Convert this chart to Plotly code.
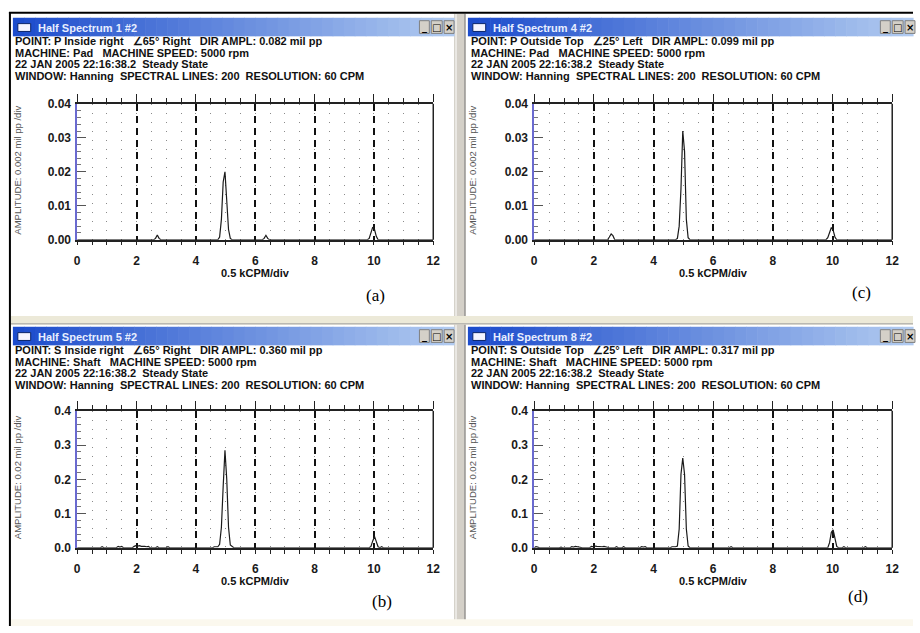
import plotly.graph_objects as go

W, H = 920, 633

# ---------------- data (frequency in kCPM, amplitude in mil pp) ----------------
freq_a = [0.00, 2.58, 2.64, 2.70, 2.76, 2.82, 4.74, 4.80, 4.86, 4.92, 4.98, 5.04, 5.10, 5.16, 5.22,
          6.24, 6.30, 6.36, 6.42, 6.48, 9.78, 9.84, 9.90, 9.96, 10.02, 10.08, 10.14, 12.00]
amp_a = [0, 0, 0.0004, 0.0014, 0.0004, 0, 0, 0.0008, 0.0060, 0.0170, 0.0200, 0.0120, 0.0030, 0.0004, 0,
         0, 0.0004, 0.0013, 0.0004, 0, 0, 0.0004, 0.0020, 0.0037, 0.0030, 0.0010, 0, 0]

freq_c = [0.00, 2.46, 2.52, 2.58, 2.64, 2.70, 4.74, 4.80, 4.86, 4.92, 4.98, 5.04, 5.10, 5.16, 5.22,
          9.78, 9.84, 9.90, 9.96, 10.02, 10.08, 10.14, 12.00]
amp_c = [0, 0, 0.0008, 0.0017, 0.0012, 0, 0, 0.0004, 0.0040, 0.0150, 0.0320, 0.0260, 0.0060, 0.0006, 0,
         0, 0.0006, 0.0022, 0.0036, 0.0028, 0.0008, 0, 0]

freq_b = [0.00, 0.78, 0.84, 0.90, 1.32, 1.38, 1.44, 1.50, 1.56, 1.86, 1.92, 1.98, 2.04, 2.10, 2.16,
          2.22, 2.28, 2.34, 2.40, 2.46, 2.64, 2.70, 2.76, 3.00, 3.06, 3.12, 4.56, 4.62, 4.68, 4.74,
          4.80, 4.86, 4.92, 4.98, 5.04, 5.10, 5.16, 5.22, 5.28, 9.84, 9.90, 9.96, 10.02, 10.08, 10.14,
          10.20, 10.26, 10.32, 12.00]
amp_b = [0, 0, 0.003, 0, 0, 0.004, 0.002, 0.004, 0, 0, 0.004, 0.006, 0.005, 0.006, 0.004,
         0.005, 0.004, 0.003, 0.004, 0, 0, 0.003, 0, 0, 0.003, 0, 0, 0.003, 0.004, 0.003,
         0.010, 0.060, 0.180, 0.285, 0.200, 0.060, 0.008, 0.004, 0, 0, 0.004, 0.020, 0.033, 0.018, 0.003,
         0, 0.003, 0, 0]

freq_d = [0.00, 0.06, 0.12, 0.18, 0.84, 0.90, 0.96, 1.20, 1.26, 1.32, 1.38, 1.44, 1.50, 1.56, 1.62,
          1.86, 1.92, 1.98, 2.04, 2.10, 2.16, 2.22, 2.28, 2.34, 2.40, 2.46, 2.52, 2.70, 2.76, 2.82,
          2.94, 3.00, 3.06, 3.54, 3.60, 3.66, 3.72, 3.78, 4.26, 4.32, 4.38, 4.56, 4.62, 4.68, 4.74,
          4.80, 4.86, 4.92, 4.98, 5.04, 5.10, 5.16, 5.22, 6.54, 6.60, 6.66, 9.84, 9.90, 9.96, 10.02,
          10.08, 10.14, 10.20, 10.32, 10.38, 10.44, 11.04, 11.10, 11.16, 12.00]
amp_d = [0, 0.003, 0.002, 0, 0, 0.002, 0, 0, 0.003, 0.002, 0.004, 0.003, 0.004, 0.003, 0,
         0, 0.004, 0.003, 0.005, 0.004, 0.003, 0.004, 0.003, 0.004, 0.003, 0.002, 0, 0, 0.003, 0,
         0, 0.003, 0, 0, 0.003, 0.002, 0.003, 0, 0, 0.002, 0, 0, 0.003, 0.002, 0.003,
         0.005, 0.055, 0.215, 0.262, 0.215, 0.055, 0.005, 0, 0, 0.003, 0, 0, 0.015, 0.045, 0.052,
         0.030, 0.004, 0, 0, 0.003, 0, 0, 0.003, 0, 0]

x_tick_vals = [0, 2, 4, 6, 8, 10, 12]
x_tick_text = ["0", "2", "4", "6", "8", "10", "12"]

NB = "\u00a0"
titles = {"a": "Half Spectrum 1 #2", "b": "Half Spectrum 5 #2",
          "c": "Half Spectrum 4 #2", "d": "Half Spectrum 8 #2"}
info = {
    "a": ["POINT: P Inside right" + NB*3 + "∠65° Right" + NB*3 + "DIR AMPL: 0.082 mil pp",
          "MACHINE: Pad" + NB*3 + "MACHINE SPEED: 5000 rpm",
          "22 JAN 2005 22:16:38.2" + NB*2 + "Steady State",
          "WINDOW: Hanning" + NB*2 + "SPECTRAL LINES: 200" + NB*2 + "RESOLUTION: 60 CPM"],
    "c": ["POINT: P Outside Top" + NB*3 + "∠25° Left" + NB*3 + "DIR AMPL: 0.099 mil pp",
          "MACHINE: Pad" + NB*3 + "MACHINE SPEED: 5000 rpm",
          "22 JAN 2005 22:16:38.2" + NB*2 + "Steady State",
          "WINDOW: Hanning" + NB*2 + "SPECTRAL LINES: 200" + NB*2 + "RESOLUTION: 60 CPM"],
    "b": ["POINT: S Inside right" + NB*3 + "∠65° Right" + NB*3 + "DIR AMPL: 0.360 mil pp",
          "MACHINE: Shaft" + NB*3 + "MACHINE SPEED: 5000 rpm",
          "22 JAN 2005 22:16:38.2" + NB*2 + "Steady State",
          "WINDOW: Hanning" + NB*2 + "SPECTRAL LINES: 200" + NB*2 + "RESOLUTION: 60 CPM"],
    "d": ["POINT: S Outside Top" + NB*3 + "∠25° Left" + NB*3 + "DIR AMPL: 0.317 mil pp",
          "MACHINE: Shaft" + NB*3 + "MACHINE SPEED: 5000 rpm",
          "22 JAN 2005 22:16:38.2" + NB*2 + "Steady State",
          "WINDOW: Hanning" + NB*2 + "SPECTRAL LINES: 200" + NB*2 + "RESOLUTION: 60 CPM"],
}
y_titles = {"a": "AMPLITUDE: 0.002 mil pp /div", "c": "AMPLITUDE: 0.002 mil pp /div",
            "b": "AMPLITUDE: 0.02 mil pp /div", "d": "AMPLITUDE: 0.02 mil pp /div"}
x_title = "0.5 kCPM/div"
panel_labels = {"a": "(a)", "b": "(b)", "c": "(c)", "d": "(d)"}

# ---------------- layout geometry (pixels) ----------------
def fx(x): return x / W
def fy(y): return 1 - y / H

panels = [
    dict(k="a", n=1, freq=freq_a, amp=amp_a, yr=[0, 0.04], dt=0.01, mn=0.002, fmt=".2f",
         px=(75, 435), py=(99, 238), ox=10, oy=11, bar=(10, 456), lab=(377, 295), ytx=15),
    dict(k="b", n=2, freq=freq_b, amp=amp_b, yr=[0, 0.4], dt=0.1, mn=0.02, fmt=".1f",
         px=(75, 435), py=(413, 553), ox=10, oy=327, bar=(10, 456), lab=(383, 608), ytx=15),
    dict(k="c", n=3, freq=freq_c, amp=amp_c, yr=[0, 0.04], dt=0.01, mn=0.002, fmt=".2f",
         px=(537, 899), py=(99, 238), ox=471, oy=11, bar=(470, 920), lab=(868, 292), ytx=475),
    dict(k="d", n=4, freq=freq_d, amp=amp_d, yr=[0, 0.4], dt=0.1, mn=0.02, fmt=".1f",
         px=(537, 899), py=(413, 553), ox=471, oy=327, bar=(470, 920), lab=(864, 603), ytx=475),
]

fig = go.Figure()
shapes = []
annotations = []
layout_axes = {}

BOLD = dict(family="Liberation Sans, Arial, sans-serif", size=11, color="#111", weight="bold")
TICKF = dict(family="Liberation Sans, Arial, sans-serif", size=12, color="#1a1a1a", weight="bold")

# window chrome
shapes.append(dict(type="rect", xref="paper", yref="paper", x0=fx(456), x1=fx(468), y0=0, y1=fy(7),
                   fillcolor="#d4d0c8", line=dict(width=0), layer="below"))
shapes.append(dict(type="line", xref="paper", yref="paper", x0=fx(467), x1=fx(467), y0=0, y1=fy(7),
                   line=dict(color="#808080", width=1), layer="below"))
shapes.append(dict(type="line", xref="paper", yref="paper", x0=fx(458), x1=fx(458), y0=0, y1=fy(7),
                   line=dict(color="#ffffff", width=1), layer="below"))
shapes.append(dict(type="rect", xref="paper", yref="paper", x0=fx(8), x1=1, y0=fy(325), y1=fy(316),
                   fillcolor="#ece9d8", line=dict(width=0), layer="below"))
shapes.append(dict(type="line", xref="paper", yref="paper", x0=fx(8), x1=1, y0=fy(324), y1=fy(324),
                   line=dict(color="#a0a0a0", width=1), layer="below"))
shapes.append(dict(type="rect", xref="paper", yref="paper", x0=fx(8), x1=1, y0=0, y1=fy(626),
                   fillcolor="#fbf8ee", line=dict(width=0), layer="below"))
shapes.append(dict(type="line", xref="paper", yref="paper", x0=fx(7), x1=fx(7), y0=0, y1=fy(5),
                   line=dict(color="#000", width=2), layer="below"))
shapes.append(dict(type="line", xref="paper", yref="paper", x0=fx(6), x1=1, y0=fy(6), y1=fy(6),
                   line=dict(color="#000", width=2), layer="below"))


def lerp(c0, c1, t):
    return "#%02x%02x%02x" % tuple(int(round(a + (b - a) * t)) for a, b in zip(c0, c1))


for p in panels:
    k, n = p["k"], p["n"]
    xa = "x" if n == 1 else f"x{n}"
    ya = "y" if n == 1 else f"y{n}"
    top_n = n + 4
    xdom = [fx(p["px"][0]), fx(p["px"][1])]
    ydom = [fy(p["py"][1]), fy(p["py"][0])]

    # spectrum line
    fig.add_trace(go.Scatter(x=p["freq"], y=p["amp"], mode="lines", xaxis=xa, yaxis=ya,
                             line=dict(color="#1a1a1a", width=1.2), showlegend=False, hoverinfo="skip"))
    # dummy for top ruler axis
    fig.add_trace(go.Scatter(x=[None], y=[None], xaxis=f"x{top_n}", yaxis=ya, mode="lines",
                             showlegend=False, hoverinfo="skip"))

    layout_axes[f"xaxis{'' if n == 1 else n}"] = dict(
        domain=xdom, anchor=ya, range=[0, 12], tickvals=x_tick_vals, ticktext=x_tick_text,
        ticks="outside", ticklen=4, tickcolor="#222", tickwidth=1,
        showline=True, linecolor="#222", linewidth=1.5, zeroline=False,
        showgrid=True, gridcolor="#111", griddash="7px,5px", gridwidth=1.5,
        minor=dict(dtick=0.5, tick0=0, ticks="outside", ticklen=4, tickcolor="#222",
                   showgrid=True, gridcolor="#8a8a8a", griddash="1px,8px", gridwidth=1),
        tickfont=TICKF, ticklabelstandoff=5, fixedrange=True)
    layout_axes[f"xaxis{top_n}"] = dict(
        domain=xdom, anchor=ya, overlaying=xa, side="top", range=[0, 12], dtick=2, tick0=0,
        ticks="outside", ticklen=8, tickcolor="#222", showticklabels=False,
        showline=True, linecolor="#222", linewidth=1.5, showgrid=False, zeroline=False,
        minor=dict(dtick=0.5, tick0=0, ticks="outside", ticklen=4, tickcolor="#222", showgrid=False),
        fixedrange=True)
    layout_axes[f"yaxis{'' if n == 1 else n}"] = dict(
        domain=ydom, anchor=xa, range=p["yr"], dtick=p["dt"], tick0=0, tickformat=p["fmt"],
        ticks="inside", ticklen=9, tickcolor="#555", showline=True, linecolor="#6a6ad0",
        linewidth=1.5, showgrid=False, zeroline=False,
        minor=dict(dtick=p["mn"], tick0=0, ticks="inside", ticklen=4, tickcolor="#777", showgrid=False),
        tickfont=TICKF, ticklabelstandoff=2, fixedrange=True)

    # right border of plot
    shapes.append(dict(type="line", xref=f"{xa} domain", yref=f"{ya} domain", x0=1, x1=1, y0=0, y1=1,
                       line=dict(color="#222", width=1.5)))

    # title bar gradient
    bx0, bx1 = p["bar"]
    ty0, ty1 = p["oy"], p["oy"] + 19
    steps = 40
    c0, c1 = (0x1c, 0x4c, 0xcc), (0xb0, 0xca, 0xf0)
    for i in range(steps):
        xs0 = bx0 + (bx1 - bx0) * i / steps
        xs1 = bx0 + (bx1 - bx0) * (i + 1) / steps + 0.6
        shapes.append(dict(type="rect", xref="paper", yref="paper", x0=fx(xs0), x1=fx(xs1),
                           y0=fy(ty1), y1=fy(ty0), fillcolor=lerp(c0, c1, i / (steps - 1)),
                           line=dict(width=0), layer="below"))
    # icon
    shapes.append(dict(type="rect", xref="paper", yref="paper", x0=fx(bx0 + 5), x1=fx(bx0 + 18),
                       y0=fy(ty0 + 14), y1=fy(ty0 + 6), fillcolor="#f4f4ff",
                       line=dict(color="#0a246a", width=1), layer="below"))
    annotations.append(dict(text=titles[k], xref="paper", yref="paper", x=fx(bx0 + 23),
                            y=fy(ty0 + 10), xanchor="left", yanchor="middle", showarrow=False,
                            font=dict(family="Liberation Sans, Arial", size=11, color="#e8eeff",
                                      weight="bold")))
    # buttons
    if bx1 < 900:
        btns = [(421, 431, "_"), (433, 444, "□"), (446, 456, "×")]
    else:
        btns = [(887, 897, "_"), (899, 910, "□"), (912, 922, "×")]
    for b0, b1, g in btns:
        shapes.append(dict(type="rect", xref="paper", yref="paper", x0=fx(b0), x1=fx(b1),
                           y0=fy(ty0 + 16), y1=fy(ty0 + 3), fillcolor="#d4d0c8",
                           line=dict(color="#808080", width=1), layer="below"))
        annotations.append(dict(text=g, xref="paper", yref="paper", x=fx((b0 + b1) / 2),
                                y=fy(ty0 + 9.5), xanchor="center", yanchor="middle", showarrow=False,
                                font=dict(family="DejaVu Sans", size=10, color="#000", weight="bold")))

    # info lines
    for j, line in enumerate(info[k]):
        annotations.append(dict(text=line, xref="paper", yref="paper", x=fx(p["ox"]),
                                y=fy(p["oy"] + [24, 36, 47, 60][j]), xanchor="left", yanchor="middle",
                                showarrow=False, font=BOLD))
    # axis titles
    cx = (p["px"][0] + p["px"][1]) / 2
    annotations.append(dict(text=x_title, xref="paper", yref="paper", x=fx(cx), y=fy(p["py"][1] + 34),
                            xanchor="center", yanchor="middle", showarrow=False, font=BOLD))
    annotations.append(dict(text=y_titles[k], xref="paper", yref="paper", x=fx(p["ytx"]),
                            y=fy((p["py"][0] + p["py"][1]) / 2 - 2), xanchor="center", yanchor="middle",
                            textangle=-90, showarrow=False,
                            font=dict(family="Liberation Sans, Arial", size=9.5, color="#555")))
    annotations.append(dict(text=panel_labels[k], xref="paper", yref="paper", x=fx(p["lab"][0]),
                            y=fy(p["lab"][1]), xanchor="center", yanchor="middle", showarrow=False,
                            font=dict(family="Liberation Serif, Times New Roman", size=17, color="#000")))

fig.update_layout(width=W, height=H, margin=dict(l=0, r=0, t=0, b=0),
                  paper_bgcolor="#ffffff", plot_bgcolor="rgba(0,0,0,0)",
                  shapes=shapes, annotations=annotations, showlegend=False, **layout_axes)

fig.write_html("out.html")
